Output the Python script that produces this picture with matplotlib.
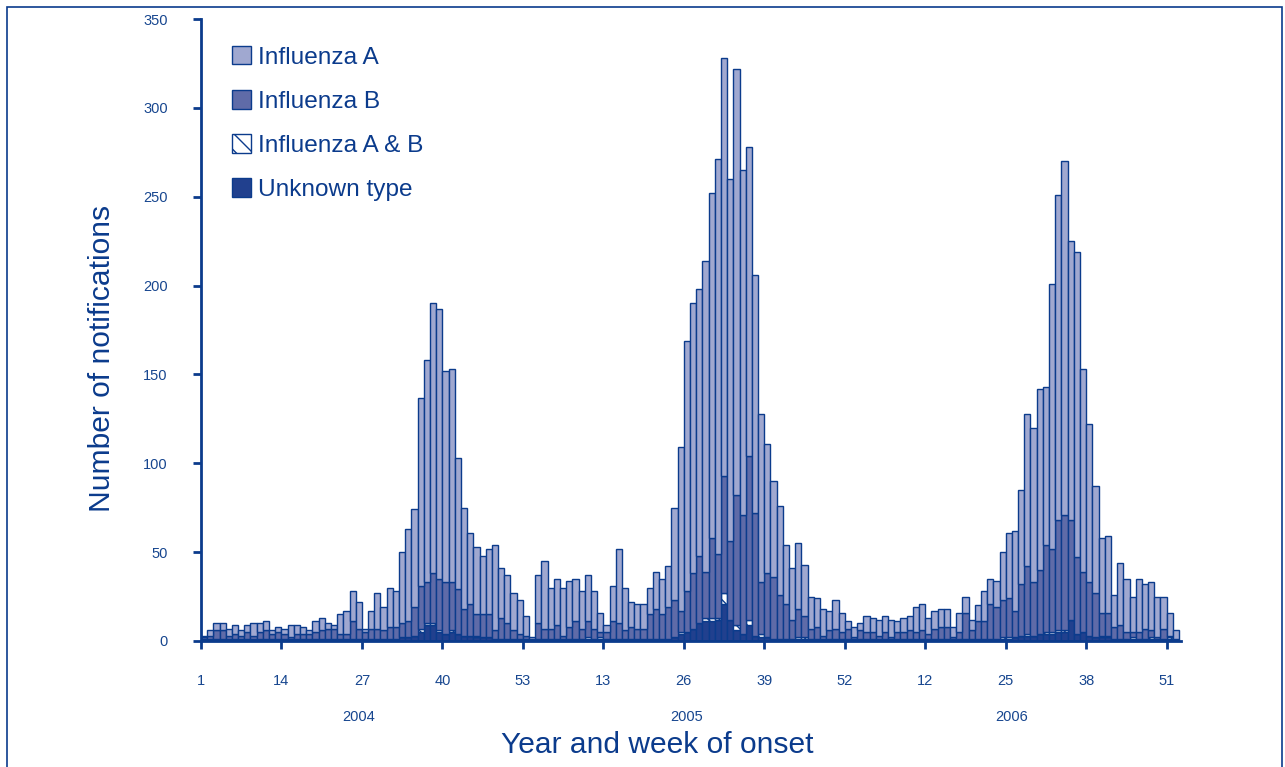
import matplotlib
matplotlib.use("Agg")
import matplotlib.pyplot as plt
from matplotlib.patches import Rectangle, Patch
import numpy as np

plt.rcParams['font.family'] = ['Liberation Sans', 'DejaVu Sans']
plt.rcParams['hatch.color'] = '#0b3b8c'
plt.rcParams['hatch.linewidth'] = 1.0

# ---- data (weekly notifications, 2004 wk1-53, 2005 wk1-53, 2006 wk1-52) ----
influenza_a = [
    # 2004
    1, 3, 4, 4, 4, 5, 3, 4, 7, 5, 5, 2, 3, 3, 7, 5, 4, 2, 6, 7,
    3, 2, 11, 13, 17, 15, 2, 10, 20, 13, 22, 20, 40, 52, 55, 106, 125, 152, 152, 119,
    120, 74, 57, 40, 38, 33, 37, 48, 28, 27, 21, 19, 11,
    # 2005
    1, 27, 38, 23, 26, 27, 26, 24, 21, 26, 21, 11, 4, 20, 42, 24, 14, 14, 14, 15,
    21, 20, 23, 52, 92, 141, 152, 150, 175, 194, 222, 235, 204, 240, 194, 174, 134, 95, 73, 54,
    50, 33, 29, 37, 29, 18, 16, 15, 11, 16, 11, 4, 6,
    # 2006
    4, 9, 8, 9, 9, 10, 6, 8, 8, 14, 15, 9, 10, 10, 10, 6, 11, 9, 6, 9,
    17, 14, 15, 27, 37, 45, 53, 86, 87, 102, 89, 149, 183, 199, 157, 172, 114, 89, 60, 42,
    43, 18, 35, 30, 20, 30, 25, 27, 23, 18, 13, 5,
]
influenza_b = [
    # 2004
    1, 2, 5, 5, 2, 3, 2, 4, 2, 4, 5, 3, 4, 3, 1, 3, 3, 3, 4, 5,
    6, 6, 3, 3, 10, 6, 4, 6, 6, 5, 7, 7, 8, 9, 16, 24, 23, 28, 29, 29,
    27, 25, 15, 18, 12, 13, 13, 5, 12, 9, 5, 3, 2,
    # 2005
    0, 9, 6, 6, 8, 2, 7, 10, 6, 9, 6, 3, 4, 10, 9, 5, 7, 6, 6, 14,
    17, 14, 18, 21, 12, 23, 31, 38, 26, 45, 36, 66, 44, 73, 67, 92, 69, 29, 36, 35,
    25, 20, 11, 16, 12, 6, 7, 2, 5, 6, 4, 6, 1,
    # 2006
    5, 4, 4, 2, 4, 1, 4, 4, 5, 4, 5, 3, 6, 7, 7, 1, 4, 15, 5, 10,
    10, 20, 18, 21, 22, 15, 29, 38, 30, 36, 49, 47, 62, 65, 56, 43, 34, 30, 25, 13,
    13, 7, 8, 4, 3, 4, 6, 4, 1, 6, 1, 0,
]
influenza_ab = [
    # 2004
    0, 0, 0, 0, 0, 0, 0, 0, 0, 0, 0, 0, 0, 0, 0, 0, 0, 0, 0, 0,
    0, 0, 0, 0, 0, 0, 0, 0, 0, 0, 0, 0, 0, 0, 0, 2, 1, 1, 1, 0,
    1, 0, 0, 0, 1, 0, 0, 0, 0, 0, 0, 0, 0,
    # 2005
    0, 0, 0, 0, 0, 0, 0, 0, 0, 1, 0, 1, 0, 0, 0, 0, 0, 0, 0, 0,
    0, 0, 0, 0, 1, 0, 0, 0, 2, 2, 1, 6, 0, 3, 0, 3, 0, 2, 0, 0,
    0, 0, 0, 1, 1, 0, 0, 0, 0, 0, 0, 0, 0,
    # 2006
    0, 0, 0, 0, 0, 0, 0, 0, 0, 0, 0, 0, 0, 0, 0, 0, 0, 0, 0, 0,
    0, 0, 0, 1, 1, 0, 0, 1, 0, 0, 1, 1, 1, 1, 0, 0, 0, 0, 0, 1,
    1, 0, 0, 0, 1, 0, 0, 1, 0, 0, 1, 0,
]
unknown_type = [
    # 2004
    1, 1, 1, 1, 1, 1, 1, 1, 1, 1, 1, 1, 1, 1, 1, 1, 1, 1, 1, 1,
    1, 1, 1, 1, 1, 1, 1, 1, 1, 1, 1, 1, 2, 2, 3, 5, 9, 9, 5, 4,
    5, 4, 3, 3, 2, 2, 2, 1, 1, 1, 1, 1, 1,
    # 2005
    1, 1, 1, 1, 1, 1, 1, 1, 1, 1, 1, 1, 1, 1, 1, 1, 1, 1, 1, 1,
    1, 1, 1, 2, 4, 5, 7, 10, 11, 11, 12, 21, 12, 6, 4, 9, 3, 2, 2, 1,
    1, 1, 1, 1, 1, 1, 1, 1, 1, 1, 1, 1, 1,
    # 2006
    1, 1, 1, 1, 1, 1, 1, 1, 1, 1, 1, 1, 1, 1, 1, 1, 1, 1, 1, 1,
    1, 1, 1, 1, 1, 2, 3, 3, 3, 4, 4, 4, 5, 5, 12, 4, 5, 3, 2, 2,
    2, 1, 1, 1, 1, 1, 1, 1, 1, 1, 1, 1,
]
weeks_per_year = [53, 53, 52]
years = ['2004', '2005', '2006']
tick_labels = ['1', '14', '27', '40', '53', '13', '26', '39', '52', '12', '25', '38', '51']
legend_labels = ['Influenza A', 'Influenza B', 'Influenza A & B', 'Unknown type']

# ---- styling ----
navy = '#0b3b8c'
text_c = '#17468f'
col_a = '#a0a8d0'
col_b = '#5f6ba8'
col_unk = '#21408e'

fig = plt.figure(figsize=(12.85, 7.67), dpi=100)
ax = fig.add_axes([0.1564, 0.1643, 0.919 - 0.1564, 0.9752 - 0.1643])

n = len(influenza_a)
x = np.arange(n)
unk = np.array(unknown_type)
ab = np.array(influenza_ab)
b = np.array(influenza_b)
a = np.array(influenza_a)

kw = dict(width=1.0, align='edge', edgecolor=navy, linewidth=1.0)
ax.bar(x, unk, color=col_unk, **kw)
ax.bar(x, ab, bottom=unk, color='white', hatch='\\\\\\', **kw)
ax.bar(x, b, bottom=unk + ab, color=col_b, **kw)
ax.bar(x, a, bottom=unk + ab + b, color=col_a, **kw)

ax.set_xlim(0, n + 0.3)
ax.set_ylim(0, 350)
ax.set_yticks(np.arange(0, 351, 50))
ax.set_xticks(np.arange(0, n, 13))
ax.set_xticklabels(tick_labels)

for s in ['top', 'right']:
    ax.spines[s].set_visible(False)
for s in ['left', 'bottom']:
    ax.spines[s].set_color(navy)
    ax.spines[s].set_linewidth(2.0)
ax.tick_params(axis='both', colors=navy, labelcolor=text_c, labelsize=10.5,
               length=6, width=2.0, direction='out', pad=18)

# year labels centred under each year
start = 0
for yr, nw in zip(years, weeks_per_year):
    ax.text(start + nw / 2 - 1, -0.122, yr, transform=ax.get_xaxis_transform(),
            ha='center', va='center', fontsize=10.5, color=text_c)
    start += nw

fig.text(102 / 1285, 1 - 358 / 767, 'Number of notifications', rotation=90,
         ha='center', va='center', fontsize=21.6, color=navy)
fig.text(657 / 1285, 1 - 745 / 767, 'Year and week of onset', ha='center',
         va='center', fontsize=21.6, color=navy)

handles = [
    Patch(facecolor=col_a, edgecolor=navy, linewidth=1.0),
    Patch(facecolor=col_b, edgecolor=navy, linewidth=1.0),
    Patch(facecolor='white', edgecolor=navy, hatch='\\\\', linewidth=1.0),
    Patch(facecolor=col_unk, edgecolor=navy, linewidth=1.0),
]
leg = ax.legend(handles, legend_labels, loc='upper left',
                bbox_to_anchor=(0.0216, 0.9727), frameon=False, fontsize=17.6,
                handlelength=0.8, handleheight=0.8, handletextpad=0.28,
                labelspacing=0.87, borderaxespad=0)
for t in leg.get_texts():
    t.set_color(navy)

# figure border
fig.patches.append(Rectangle((7 / 1285, -0.02), (1282 - 7) / 1285, 1.02 - 7 / 767,
                             transform=fig.transFigure, fill=False,
                             edgecolor=navy, linewidth=1.2))

fig.savefig('out.png', dpi=100)
